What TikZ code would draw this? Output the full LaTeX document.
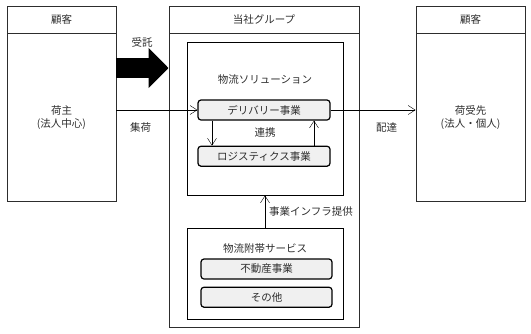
\documentclass[tikz,border=0pt]{standalone}
\usepackage{fontspec}
\setmainfont{Noto Sans CJK JP}
\usetikzlibrary{positioning,arrows.meta}
\definecolor{ink}{RGB}{45,45,45}
\definecolor{unitfill}{RGB}{240,240,240}

\begin{document}
\begin{tikzpicture}[x=1pt,y=-1pt,font=\fontsize{10.5}{13}\selectfont,
  >={Straight Barb[length=7pt,width=9pt]},
  frame/.style={draw=ink,line width=0.9pt,inner sep=0pt,align=center,text=ink},
  box/.style={draw,line width=0.9pt,inner sep=0pt},
  unit/.style={draw,line width=1.2pt,rounded corners=3pt,fill=unitfill,minimum width=132pt,minimum height=20pt,inner sep=0pt,text=ink},
  lbl/.style={text=ink,inner sep=1pt}]
  \useasboundingbox (0,0) rectangle (531,333);
  % customers and group
  \node[frame,minimum width=109pt,minimum height=27pt] (custL) at (61.5,19.5) {顧客};
  \node[frame,minimum width=109pt,minimum height=168pt,below=0pt of custL] (shipper) {荷主\\(法人中心)};
  \node[frame,minimum width=190pt,minimum height=27pt] (grpHead) at (264,19.5) {当社グループ};
  \node[frame,minimum width=190pt,minimum height=294pt,below=0pt of grpHead] (grp) {};
  \node[frame,minimum width=109pt,minimum height=27pt] (custR) at (470.5,19.5) {顧客};
  \node[frame,minimum width=109pt,minimum height=168pt,below=0pt of custR] (consignee) {荷受先\\(法人・個人)};
  % logistics solution
  \node[box,minimum width=156pt,minimum height=153pt] (sol) at (265,118.5) {};
  \node[lbl] (solTitle) at (265,80) {物流ソリューション};
  \node[unit] (deliv) at (264,110) {デリバリー事業};
  \node[unit,below=25pt of deliv] (logi) {ロジスティクス事業};
  \node[lbl] (coop) at (265,133) {連携};
  % ancillary services
  \node[box,minimum width=156pt,minimum height=91pt] (aux) at (265,273.5) {};
  \node[lbl] (auxTitle) at (265,249) {物流附帯サービス};
  \node[unit,minimum width=131pt] (realty) at (266.5,269) {不動産事業};
  \node[unit,minimum width=131pt,below=7pt of realty] (misc) {その他};
  % flows
  \coordinate (entrustY) at (0,68);
  \draw[line width=20pt,-{Triangle[length=20pt,width=39pt]}] (shipper.east |- entrustY) -- (grp.west |- entrustY);
  \node[lbl] (entrust) at (142,42) {受託};
  \draw[->] (shipper.east |- deliv.west) -- node[lbl,pos=0.3,below=11pt] (pickup) {集荷} (deliv.west);
  \draw[->] (deliv.east) -- node[lbl,pos=0.66,below=11pt] (deliver) {配達} (consignee.west |- deliv.east);
  \draw[->] ([xshift=-52pt]deliv.south) -- ([xshift=-52pt]logi.north);
  \draw[->] ([xshift=50pt]logi.north) -- ([xshift=50pt]deliv.south);
  \draw[->] (aux.north) -- node[lbl,right=3pt] (infra) {事業インフラ提供} (sol.south);
\end{tikzpicture}
\end{document}
